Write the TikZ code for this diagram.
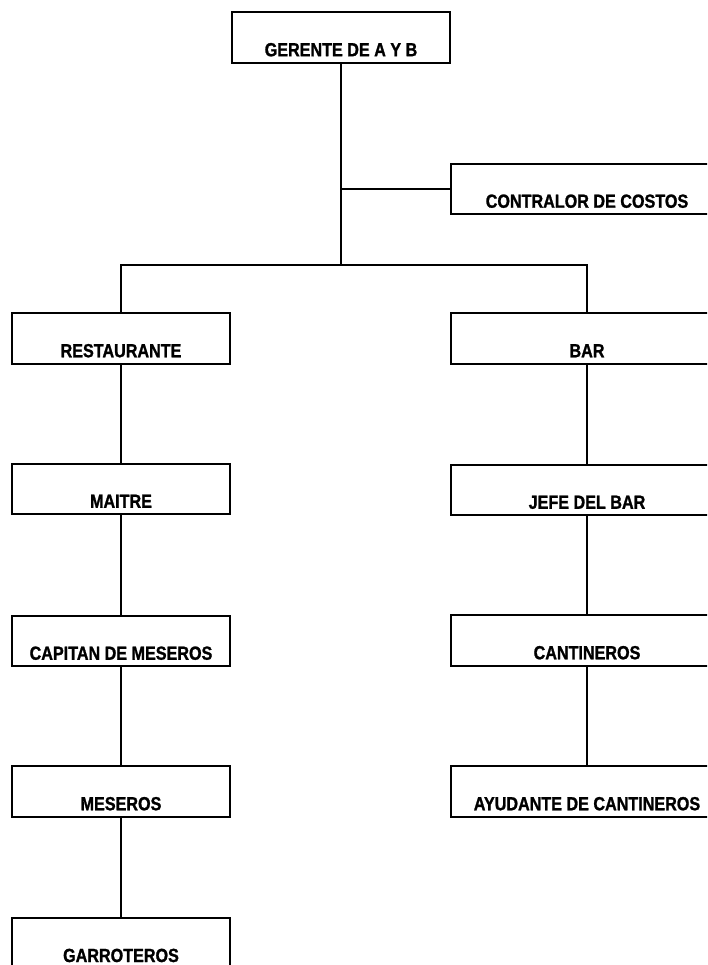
\documentclass[tikz,border=0pt]{standalone}
\usepackage{fontspec}
\newfontfamily\orgfont{Liberation Sans}[FakeStretch=0.85, BoldFeatures={FakeBold=1.2}]
\begin{document}
\begin{tikzpicture}[x=1pt,y=-1pt,
  orgbox/.style={draw, line width=1.8pt, inner xsep=0pt, inner ysep=0pt,
    text height=44pt, text depth=6.5pt, align=center,
    font=\orgfont\bfseries\fontsize{19}{19}\selectfont},
  leftbox/.style={orgbox, minimum width=218pt},
  rightbox/.style={orgbox, minimum width=272pt},
  link/.style={line width=1.8pt}]
\useasboundingbox (0,0) rectangle (707,965);
\clip (0,0) rectangle (707,965);
\node[leftbox] (ger) at (341,37.5) {GERENTE DE A Y B};
\node[rightbox] (con) at (587,189) {CONTRALOR DE COSTOS};
\node[leftbox] (rest) at (121,338.5) {RESTAURANTE};
\node[rightbox] (bar) at (587,338.5) {BAR};
\node[leftbox] (mai) at (121,489) {MAITRE};
\node[rightbox] (jefe) at (587,490) {JEFE DEL BAR};
\node[leftbox] (cap) at (121,641) {CAPITAN DE MESEROS};
\node[rightbox] (cant) at (587,640.5) {CANTINEROS};
\node[leftbox] (mes) at (121,791.5) {MESEROS};
\node[rightbox] (ayu) at (587,791.5) {AYUDANTE DE CANTINEROS};
\node[leftbox] (gar) at (121,943.25) {GARROTEROS};
\coordinate (j) at (341,265);
\coordinate (jl) at (121,265);
\coordinate (jr) at (587,265);
\draw[link] (ger.south) -- (j);
\draw[link] (con.west) -- (con.west -| ger.south);
\draw[link] (rest.north) -- (jl) -- (jr) -- (bar.north);
\draw[link] (rest) -- (mai);
\draw[link] (mai) -- (cap);
\draw[link] (cap) -- (mes);
\draw[link] (mes) -- (gar);
\draw[link] (bar) -- (jefe);
\draw[link] (jefe) -- (cant);
\draw[link] (cant) -- (ayu);
\end{tikzpicture}
\end{document}
